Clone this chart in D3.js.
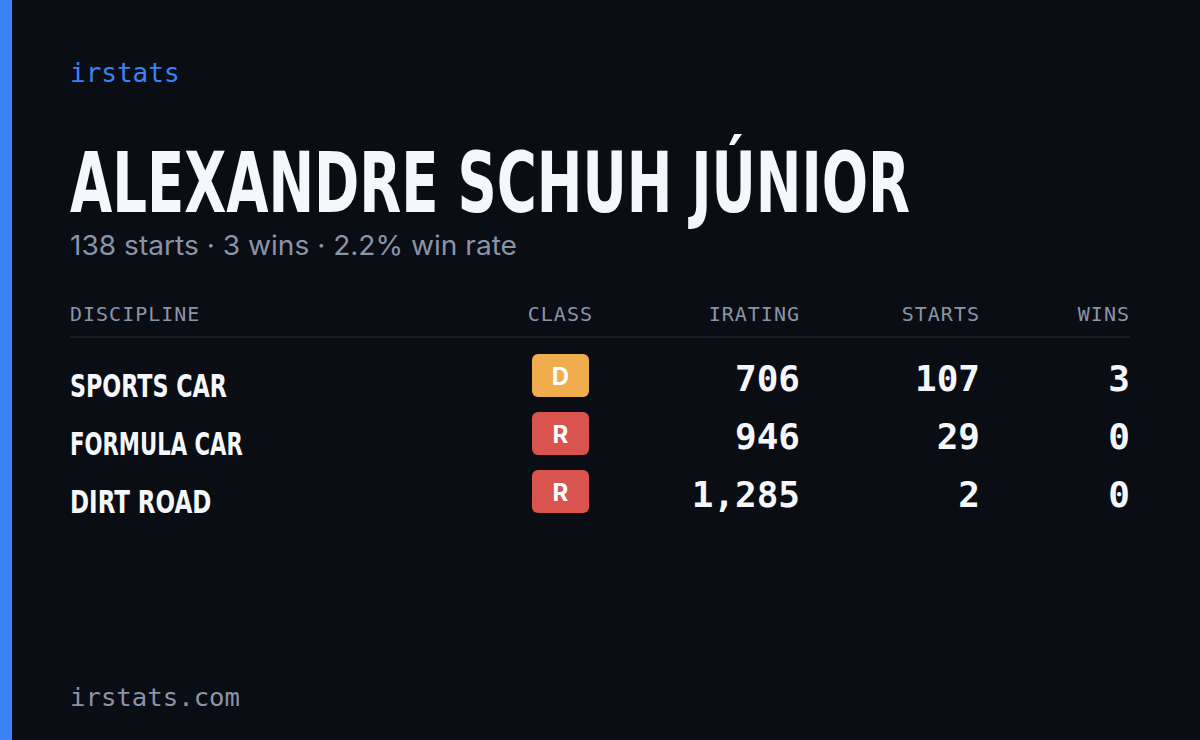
<!DOCTYPE html>
<html><head><meta charset="utf-8">
<script src="https://cdn.jsdelivr.net/npm/d3@7"></script>
<style>body{margin:0;background:#0a0d14}</style></head>
<body><svg id="c" width="1200" height="740"></svg>
<script>
const brand = "irstats";
const footer = "irstats.com";
const driverName = "ALEXANDRE SCHUH JÚNIOR";
const subtitle = "138 starts · 3 wins · 2.2% win rate";
const headers = ["DISCIPLINE","CLASS","IRATING","STARTS","WINS"];
const disciplines = ["SPORTS CAR","FORMULA CAR","DIRT ROAD"];
const classes = ["D","R","R"];
const iratings = [706,946,1285];
const starts = [107,29,2];
const wins = [3,0,0];
const classColors = {D:"#f0ad4e", R:"#d9534f"};

const svg = d3.select("#c");
svg.append("rect").attr("width",1200).attr("height",740).attr("fill","#0a0d14");
svg.append("rect").attr("width",12).attr("height",740).attr("fill","#3b82f6");
const mono = "'DejaVu Sans Mono', 'Liberation Mono', monospace";
const cond = "'DejaVu Sans Condensed', 'DejaVu Sans', sans-serif";
svg.append("text").attr("x",70).attr("y",82).text(brand).attr("fill","#3b82f6").attr("font-family",mono).attr("font-size",26);
svg.append("text").attr("x",70).attr("y",212).text(driverName).attr("fill","#f5f7fb")
  .attr("font-family",cond).attr("font-weight","bold").attr("font-size",84)
  .attr("textLength",840).attr("lengthAdjust","spacingAndGlyphs");
svg.append("text").attr("x",70).attr("y",255).text(subtitle).attr("fill","#8a94a8")
  .attr("font-family","Inter, 'Noto Sans', sans-serif").attr("font-size",27)
  .attr("textLength",447).attr("lengthAdjust","spacingAndGlyphs");

const colX = d3.scaleOrdinal().domain(headers).range([70,593,800,980,1130]);
const anchors = ["start","end","end","end","end"];
headers.forEach((h,i)=>svg.append("text").attr("x",colX(h)).attr("y",321).attr("text-anchor",anchors[i])
  .text(h).attr("fill","#8a94a8").attr("font-family",mono).attr("font-size",20).attr("letter-spacing",1));
svg.append("line").attr("x1",70).attr("x2",1130).attr("y1",337).attr("y2",337).attr("stroke","#1f2430").attr("stroke-width",1.5);

const y = d3.scaleBand().domain(disciplines).range([350,524]);
const fmt = d3.format(",");
disciplines.forEach((d,i)=>{
  const yc = y(d)+y.bandwidth()/2;
  svg.append("text").attr("x",70).attr("y",yc+18).text(d).attr("fill","#f5f7fb")
    .attr("font-family",cond).attr("font-weight","bold").attr("font-size",32)
    .attr("textLength",d.length*15.7).attr("lengthAdjust","spacingAndGlyphs");
  svg.append("rect").attr("x",532).attr("y",yc-25).attr("width",57).attr("height",43).attr("rx",6).attr("fill",classColors[classes[i]]);
  svg.append("text").attr("x",560.5).attr("y",yc+6).attr("text-anchor","middle").text(classes[i])
    .attr("fill","#fff").attr("font-family","Inter, sans-serif").attr("font-weight","bold").attr("font-size",24);
  [[fmt(iratings[i]),800],[starts[i],980],[wins[i],1130]].forEach(([v,x])=>
    svg.append("text").attr("x",x).attr("y",yc+12).attr("text-anchor","end").text(v)
      .attr("fill","#f5f7fb").attr("font-family",mono).attr("font-weight","bold").attr("font-size",36));
});
svg.append("text").attr("x",70).attr("y",706).text(footer).attr("fill","#8a94a8").attr("font-family",mono).attr("font-size",25)
  .attr("textLength",170).attr("lengthAdjust","spacingAndGlyphs");
</script></body></html>
